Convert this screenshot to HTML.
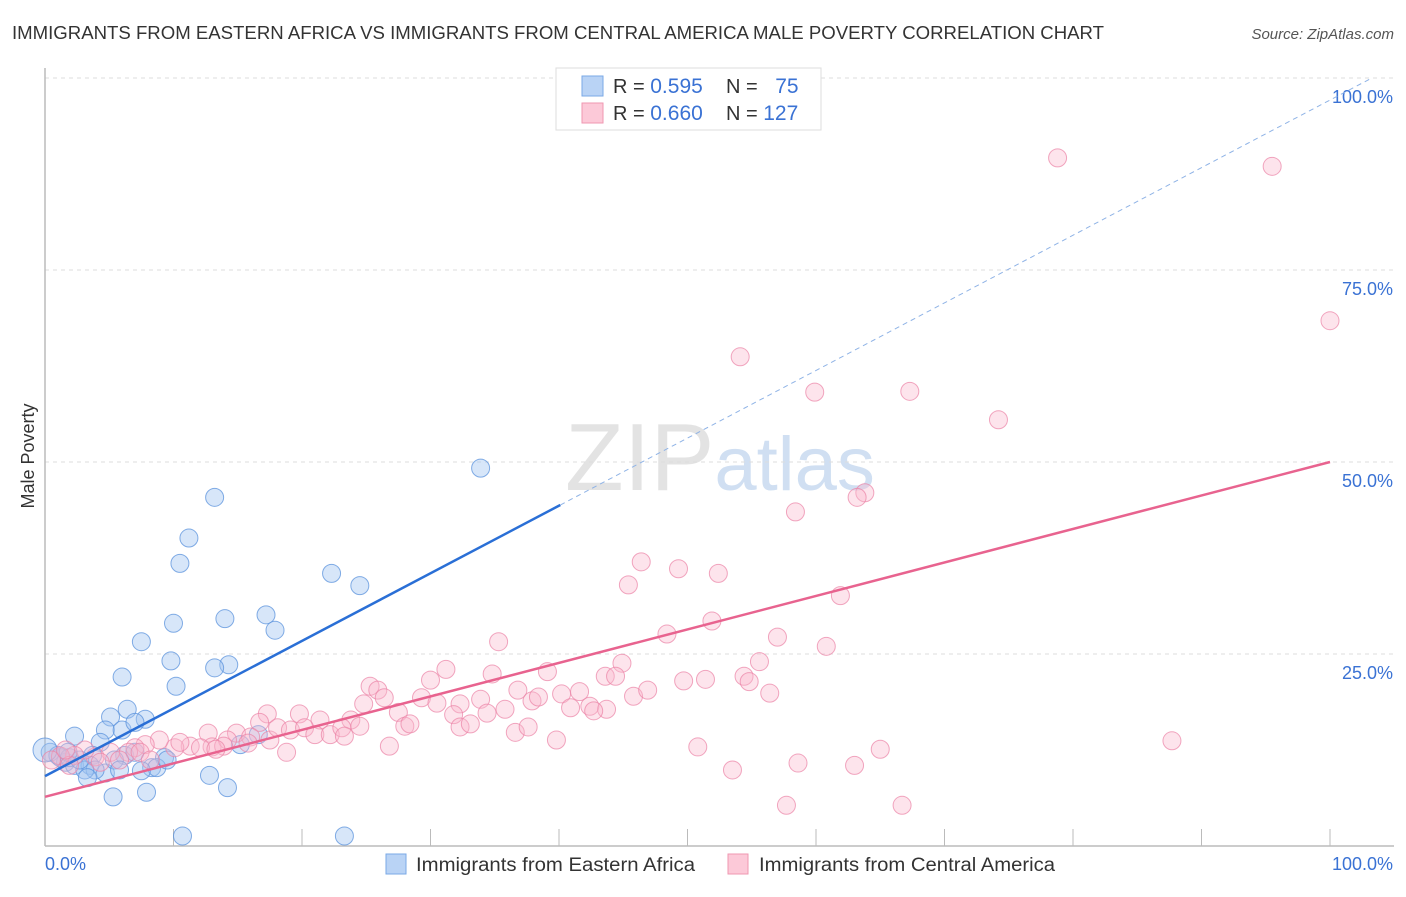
<!DOCTYPE html>
<html><head><meta charset="utf-8"><style>
body{margin:0;background:#fff;font-family:"Liberation Sans",sans-serif;}
svg text{font-family:"Liberation Sans",sans-serif;}
</style></head><body>
<svg id="chart" width="1406" height="892" viewBox="0 0 1406 892" xmlns="http://www.w3.org/2000/svg">
<text x="12" y="39" font-size="18" fill="#333" textLength="1092" lengthAdjust="spacingAndGlyphs">IMMIGRANTS FROM EASTERN AFRICA VS IMMIGRANTS FROM CENTRAL AMERICA MALE POVERTY CORRELATION CHART</text>
<text x="1394" y="39" font-size="15" fill="#555" text-anchor="end" font-style="italic">Source: ZipAtlas.com</text>
<text x="720" y="490" font-size="96" fill="#ddd" text-anchor="middle" font-family="Liberation Serif" opacity="0.8">ZIP<tspan fill="#c5d8ef" font-family="Liberation Sans" font-size="76">atlas</tspan></text>
<text transform="translate(34,456) rotate(-90)" font-size="18" fill="#333" text-anchor="middle">Male Poverty</text>
<g id="grid"></g>
<g id="marks"></g>
<g>
<rect x="556" y="68" width="265" height="62" fill="#fff" stroke="#ddd"/>
<rect x="582" y="76" width="21" height="20" fill="#b9d3f5" stroke="#7aa8e6"/>
<rect x="582" y="103" width="21" height="20" fill="#fcc9d8" stroke="#ef97b1"/>
<text x="613" y="93" font-size="20" fill="#333">R = <tspan fill="#3a72d4" font-size="21">0.595</tspan></text>
<text x="726" y="93" font-size="20" fill="#333">N = <tspan fill="#3a72d4" dx="12" font-size="21">75</tspan></text>
<text x="613" y="120" font-size="20" fill="#333">R = <tspan fill="#3a72d4" font-size="21">0.660</tspan></text>
<text x="726" y="120" font-size="20" fill="#333">N = <tspan fill="#3a72d4" font-size="21">127</tspan></text>
</g>
<g>
<rect x="386" y="854" width="20" height="20" fill="#b9d3f5" stroke="#7aa8e6"/>
<text x="416" y="871" font-size="19" fill="#333" textLength="279" lengthAdjust="spacingAndGlyphs">Immigrants from Eastern Africa</text>
<rect x="728" y="854" width="20" height="20" fill="#fcc9d8" stroke="#ef97b1"/>
<text x="759" y="871" font-size="19" fill="#333" textLength="296" lengthAdjust="spacingAndGlyphs">Immigrants from Central America</text>
</g>
</svg>
<script>
const blueX=[33.9,13.2,11.2,10.5,22.3,24.5,17.2,14.0,10.0,17.9,7.5,9.8,14.3,13.2,10.2,6.0,6.4,5.1,7.8,4.7,6.0,7.0,2.3,16.6,15.2,9.3,8.3,8.7,7.5,4.3,3.7,1.2,0.4,1.6,2.3,3.5,4.7,3.9,6.2,7.0,3.1,3.3,12.8,14.2,7.9,5.3,10.7,23.3,1.0,1.9,2.7,5.4,5.8,1.8,0,9.5];
const blueY=[49.2,45.4,40.1,36.8,35.5,33.9,30.1,29.6,29.0,28.1,26.6,24.1,23.6,23.2,20.8,22.0,17.8,16.8,16.5,15.1,15.1,16.1,14.3,14.5,13.2,11.5,10.2,10.2,9.8,13.5,11.8,11.5,12.2,10.9,10.5,10.5,9.5,9.9,11.8,12.2,9.9,8.9,9.2,7.6,7.0,6.4,1.3,1.3,11.8,11.5,11.2,11.2,9.9,12.2,12.5,11.2];
const pinkX=[78.8,95.5,100,54.1,59.9,67.3,74.2,63.8,63.2,58.4,46.4,49.3,52.4,45.4,61.9,51.9,48.4,57.0,60.8,35.3,44.9,55.6,54.4,54.8,31.2,34.8,39.1,43.6,44.4,25.3,25.9,30.0,49.7,51.4,56.4,36.8,40.2,41.6,45.8,46.9,26.4,29.3,30.5,32.3,33.9,35.8,37.9,38.4,40.9,42.4,43.7,42.7,24.8,27.5,17.3,19.8,21.4,23.8,24.5,31.8,32.3,33.1,34.4,36.6,37.6,28.0,28.4,16.7,14.9,16.0,17.5,18.1,19.1,20.2,21.0,22.2,23.1,23.3,12.7,13.0,14.2,15.8,13.9,11.3,10.1,8.9,7.8,7.0,6.5,5.1,3.9,3.1,2.3,1.2,0.5,5.8,7.4,8.2,12.1,13.3,18.8,26.8,39.8,50.8,53.5,58.6,63.0,65.0,87.7,57.7,66.7,1.9,10.5,4.3,1.6];
const pinkY=[89.6,88.5,68.4,63.7,59.1,59.2,55.5,46.0,45.4,43.5,37.0,36.1,35.5,34.0,32.6,29.3,27.6,27.2,26.0,26.6,23.8,24.0,22.1,21.4,23.0,22.4,22.7,22.1,22.1,20.8,20.3,21.6,21.5,21.7,19.9,20.3,19.8,20.1,19.5,20.3,19.3,19.3,18.6,18.5,19.1,17.8,18.9,19.4,18.0,18.2,17.8,17.6,18.5,17.4,17.2,17.2,16.4,16.4,15.6,17.1,15.5,15.9,17.3,14.8,15.5,15.6,15.9,16.1,14.7,14.2,13.8,15.4,15.1,15.4,14.5,14.5,15.4,14.3,14.7,12.9,13.8,13.4,13.0,13.0,12.8,13.8,13.2,12.8,12.2,12.2,11.6,12.5,11.8,11.7,11.2,11.2,12.2,11.2,12.8,12.6,12.2,13.0,13.8,12.9,9.9,10.8,10.5,12.6,13.7,5.3,5.3,10.5,13.5,10.9,12.5];
const blueTrend=[9.1,44.4]; // y at x=0 and x=40.1
const blueTrendEndX=40.1;
const pinkTrend=[6.4,50.0]; // y at x=0 and x=100
const yTicks=[25,50,75,100];
const xTickLabels=["0.0%","100.0%"];

const NS="http://www.w3.org/2000/svg";
const sx=v=>45+v*12.85;
const sy=v=>846-v*7.68;
function mk(tag,attrs,parent){const e=document.createElementNS(NS,tag);for(const k in attrs)e.setAttribute(k,attrs[k]);parent.appendChild(e);return e;}
const grid=document.getElementById('grid');
const marks=document.getElementById('marks');
yTicks.forEach(t=>{
  const l=mk('line',{x1:45,x2:1394,y1:sy(t),y2:sy(t),stroke:'#ddd','stroke-dasharray':'4,4'},grid);
  
  
  const tx=mk('text',{x:1393,y:sy(t)+25,'font-size':18,fill:'#3a72d4','text-anchor':'end'},grid);
  tx.textContent=t.toFixed(1)+'%';
  
  
});
const ya=mk('line',{x1:45,x2:45,y1:68,y2:846,stroke:'#bbb','stroke-width':1.5},grid);


const xa=mk('line',{x1:45,x2:1394,y1:846,y2:846,stroke:'#bbb','stroke-width':1.5},grid);


for(let i=1;i<=10;i++){
  const t=mk('line',{x1:sx(i*10),x2:sx(i*10),y1:829,y2:846,stroke:'#bbb'},grid);
  
  
}
const xl0=mk('text',{x:45,y:870,'font-size':18,fill:'#3a72d4'},grid);
xl0.textContent=xTickLabels[0];


const xl1=mk('text',{x:1393,y:870,'font-size':18,fill:'#3a72d4','text-anchor':'end'},grid);
xl1.textContent=xTickLabels[1];


blueX.forEach((x,i)=>{
  const c=mk('circle',{cx:sx(x),cy:sy(blueY[i]),r:(x===0?12:9),fill:'rgba(160,196,240,0.42)',stroke:'rgba(90,145,220,0.75)','stroke-width':1},marks);
  
  
});
pinkX.forEach((x,i)=>{
  const c=mk('circle',{cx:sx(x),cy:sy(pinkY[i]),r:9,fill:'rgba(250,185,205,0.38)',stroke:'rgba(235,130,165,0.7)','stroke-width':1},marks);
  
  
});
const slopeB=(blueTrend[1]-blueTrend[0])/blueTrendEndX;
const bl=mk('line',{x1:sx(0),y1:sy(blueTrend[0]),x2:sx(blueTrendEndX),y2:sy(blueTrend[1]),stroke:'#2a6fd6','stroke-width':2.5},marks);


const xEnd=(100-blueTrend[0])/slopeB;
const bd=mk('line',{x1:sx(blueTrendEndX),y1:sy(blueTrend[1]),x2:sx(xEnd),y2:sy(100),stroke:'#8fb3e6','stroke-width':1,'stroke-dasharray':'5,4'},marks);


const pl=mk('line',{x1:sx(0),y1:sy(pinkTrend[0]),x2:sx(100),y2:sy(pinkTrend[1]),stroke:'#e8638f','stroke-width':2.5},marks);


</script>
</body></html>
